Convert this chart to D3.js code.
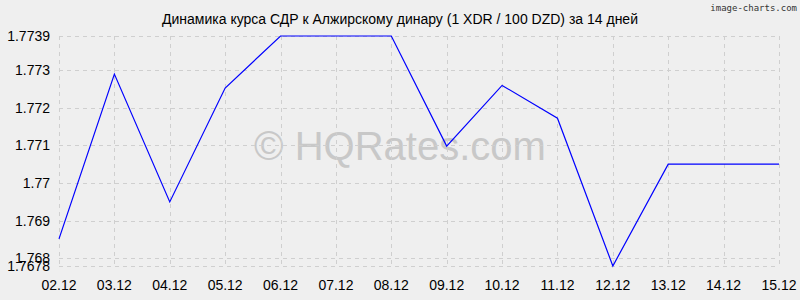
<!DOCTYPE html>
<html>
<head>
<meta charset="utf-8">
<script src="https://cdn.jsdelivr.net/npm/d3@7"></script>
<style>
  html, body { margin: 0; padding: 0; background: #efefef; }
  svg { display: block; font-family: "Liberation Sans", Arial, sans-serif; }
</style>
</head>
<body>
<div id="chart"></div>
<script>
// данные графика
const dates = ['02.12', '03.12', '04.12', '05.12', '06.12', '07.12', '08.12',
  '09.12', '10.12', '11.12', '12.12', '13.12', '14.12', '15.12'];
const rates = [1.76852, 1.77289, 1.7695, 1.77252, 1.7739, 1.7739, 1.7739,
  1.77098, 1.77259, 1.77172, 1.7678, 1.7705, 1.7705, 1.7705];
const yTicks = [1.7678, 1.768, 1.769, 1.77, 1.771, 1.772, 1.773, 1.7739];
const yTickLabels = ['1.7678', '1.768', '1.769', '1.77', '1.771', '1.772', '1.773', '1.7739'];

const width = 800, height = 300;
const margin = { top: 36, right: 21, bottom: 34, left: 59 };

const svg = d3.select('#chart').append('svg')
  .attr('width', width)
  .attr('height', height);

svg.append('rect')
  .attr('width', width).attr('height', height)
  .attr('fill', '#efefef');

const x = d3.scalePoint()
  .domain(dates)
  .range([margin.left, width - margin.right]);

const y = d3.scaleLinear()
  .domain([d3.min(yTicks), d3.max(yTicks)])
  .range([height - margin.bottom, margin.top]);

// водяной знак
svg.append('text')
  .attr('x', 400)
  .attr('y', 160)
  .attr('text-anchor', 'middle')
  .attr('font-size', 40)
  .attr('fill', '#c8c8c8')
  .text('© HQRates.com');

// сетка
const grid = svg.append('g')
  .attr('stroke', '#cfcfcf')
  .attr('stroke-width', 1)
  .attr('stroke-dasharray', '4,4')
  .attr('shape-rendering', 'crispEdges');

grid.selectAll('line.h')
  .data(yTicks)
  .enter().append('line')
  .attr('class', 'h')
  .attr('x1', margin.left)
  .attr('x2', width - margin.right)
  .attr('y1', d => Math.round(y(d)) + 0.5)
  .attr('y2', d => Math.round(y(d)) + 0.5);

grid.selectAll('line.v')
  .data(dates)
  .enter().append('line')
  .attr('class', 'v')
  .attr('x1', d => Math.round(x(d)) + 0.5)
  .attr('x2', d => Math.round(x(d)) + 0.5)
  .attr('y1', margin.top)
  .attr('y2', height - margin.bottom);

// подписи оси Y
svg.append('g')
  .selectAll('text')
  .data(yTicks)
  .enter().append('text')
  .attr('x', margin.left - 9)
  .attr('y', d => y(d))
  .attr('dy', '0.36em')
  .attr('text-anchor', 'end')
  .attr('font-size', 14)
  .attr('fill', '#000')
  .text((d, i) => yTickLabels[i]);

// подписи оси X
svg.append('g')
  .selectAll('text')
  .data(dates)
  .enter().append('text')
  .attr('x', d => x(d))
  .attr('y', 290)
  .attr('text-anchor', 'middle')
  .attr('font-size', 14)
  .attr('fill', '#000')
  .text(d => d);

// линия курса
const line = d3.line()
  .x((d, i) => x(dates[i]))
  .y(d => y(d));

svg.append('path')
  .datum(rates)
  .attr('d', line)
  .attr('fill', 'none')
  .attr('stroke', '#0000ff')
  .attr('stroke-width', 1.2);

// заголовок
svg.append('text')
  .attr('x', 400)
  .attr('y', 24)
  .attr('text-anchor', 'middle')
  .attr('font-size', 14)
  .attr('fill', '#000')
  .text('Динамика курса СДР к Алжирскому динару (1 XDR / 100 DZD) за 14 дней');

svg.append('text')
  .attr('x', 797)
  .attr('y', 11)
  .attr('text-anchor', 'end')
  .attr('font-size', 9)
  .attr('font-family', '"DejaVu Sans Mono", monospace')
  .attr('fill', '#333')
  .text('image-charts.com');
</script>
</body>
</html>
